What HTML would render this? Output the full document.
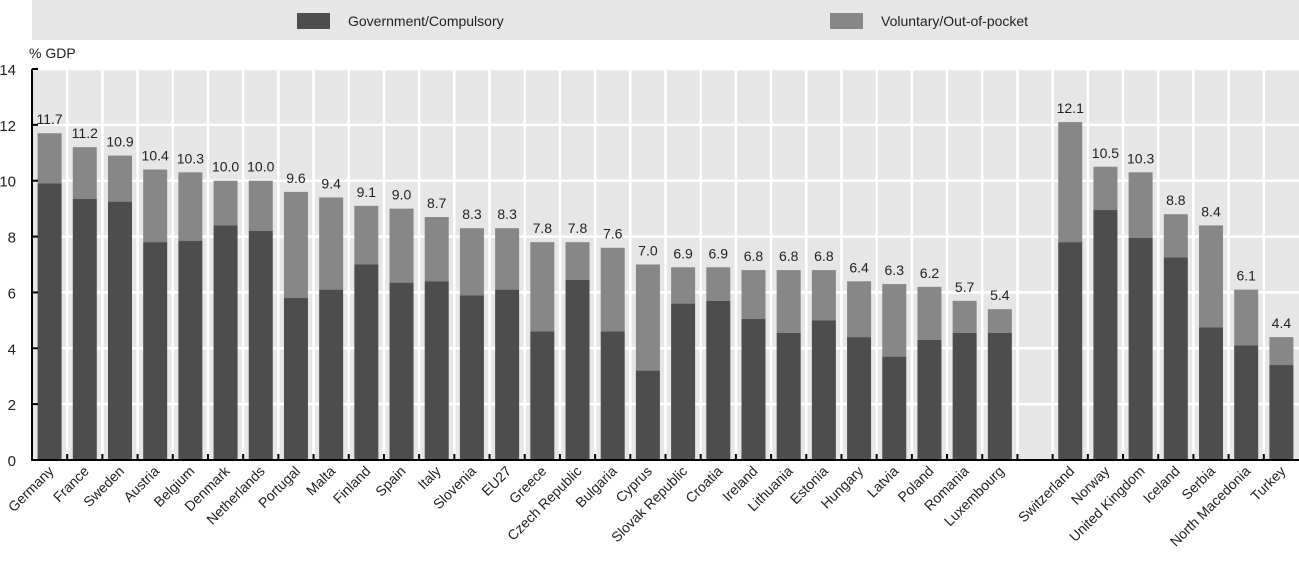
<!DOCTYPE html>
<html><head><meta charset="utf-8"><style>
body{margin:0;background:#fff;font-family:"Liberation Sans",Arial,sans-serif;}
svg text{font-family:"Liberation Sans",Arial,sans-serif;}
</style></head><body>
<svg id="chart" width="1299" height="557" xmlns="http://www.w3.org/2000/svg">
<rect x="32" y="0" width="1267" height="40" fill="#e6e6e6"/>
<rect x="297" y="13" width="33" height="16" fill="#4d4d4d"/>
<text x="348" y="26" font-size="14" fill="#222">Government/Compulsory</text>
<rect x="830" y="13" width="33" height="16" fill="#878787"/>
<text x="881" y="26" font-size="14" fill="#222">Voluntary/Out-of-pocket</text>
<rect x="32" y="69" width="1267" height="391" fill="#e6e6e6"/>
<g id="grid"></g><g id="bars"></g><g id="axes"></g>
<text x="29" y="58" font-size="14" fill="#222">% GDP</text>
</svg>
<script>
const categories=["Germany","France","Sweden","Austria","Belgium","Denmark","Netherlands","Portugal","Malta","Finland","Spain","Italy","Slovenia","EU27","Greece","Czech Republic","Bulgaria","Cyprus","Slovak Republic","Croatia","Ireland","Lithuania","Estonia","Hungary","Latvia","Poland","Romania","Luxembourg","","Switzerland","Norway","United Kingdom","Iceland","Serbia","North Macedonia","Turkey"];
const government=[9.9,9.35,9.25,7.8,7.85,8.4,8.2,5.8,6.1,7.0,6.35,6.4,5.9,6.1,4.6,6.45,4.6,3.2,5.6,5.7,5.05,4.55,5.0,4.4,3.7,4.3,4.55,4.55,null,7.8,8.95,7.95,7.25,4.75,4.1,3.4];
const totals=[11.7,11.2,10.9,10.4,10.3,10.0,10.0,9.6,9.4,9.1,9.0,8.7,8.3,8.3,7.8,7.8,7.6,7.0,6.9,6.9,6.8,6.8,6.8,6.4,6.3,6.2,5.7,5.4,null,12.1,10.5,10.3,8.8,8.4,6.1,4.4];
const yTicks=[0,2,4,6,8,10,12,14];
</script>
<script>
const NS="http://www.w3.org/2000/svg";
const x0=32,x1=1299,y0=460,yTop=69,yMax=14;
const slot=(x1-x0)/categories.length;
const y=v=>y0-(v/yMax)*(y0-yTop);
const xc=i=>x0+(i+0.5)*slot;
function mk(tag,attrs,parent){const e=document.createElementNS(NS,tag);for(const k in attrs)e.setAttribute(k,attrs[k]);parent.appendChild(e);return e;}
const grid=document.getElementById('grid'),bars=document.getElementById('bars'),axes=document.getElementById('axes');
yTicks.forEach(t=>{
 if(t>0){const g=mk('line',{x1:x0,x2:x1,y1:y(t),y2:y(t),stroke:'#fff','stroke-width':2.5},grid);
 
 }
 const tk=mk('line',{x1:x0,x2:x0+6,y1:y(t),y2:y(t),stroke:'#000','stroke-width':2},axes);
 
 
 const lb=mk('text',{x:16,y:y(t)+6,'font-size':15,'text-anchor':'end',fill:'#222'},axes);
 lb.textContent=t;
 
 
});
for(let i=1;i<categories.length;i++){
 const xv=x0+i*slot;
 const g=mk('line',{x1:xv,x2:xv,y1:yTop,y2:y0,stroke:'#fff','stroke-width':2.5},grid);
 
 
 const tk=mk('line',{x1:xv,x2:xv,y1:y0,y2:y0-6,stroke:'#000','stroke-width':2},axes);
 
 
}
const bw=24;
categories.forEach((c,i)=>{
 if(totals[i]==null)return;
 const cx=xc(i);
 const vb=mk('rect',{x:cx-bw/2,y:y(totals[i]),width:bw,height:y(government[i])-y(totals[i]),fill:'#878787'},bars);
 
 
 const gb=mk('rect',{x:cx-bw/2,y:y(government[i]),width:bw,height:y0-y(government[i]),fill:'#4d4d4d'},bars);
 
 
 const vl=mk('text',{x:cx,y:y(totals[i])-9,'font-size':14,'text-anchor':'middle',fill:'#222'},bars);
 vl.textContent=totals[i].toFixed(1);
 
 
 const xl=mk('text',{x:0,y:0,'font-size':14,'text-anchor':'end',fill:'#222',transform:`translate(${cx+5},${y0+12}) rotate(-45)`},axes);
 xl.textContent=c;
 
 
});
const ya=mk('line',{x1:x0,x2:x0,y1:yTop,y2:y0+1,stroke:'#000','stroke-width':2},axes);


const xa=mk('line',{x1:x0,x2:x1,y1:y0,y2:y0,stroke:'#000','stroke-width':2},axes);


</script>
</body></html>
